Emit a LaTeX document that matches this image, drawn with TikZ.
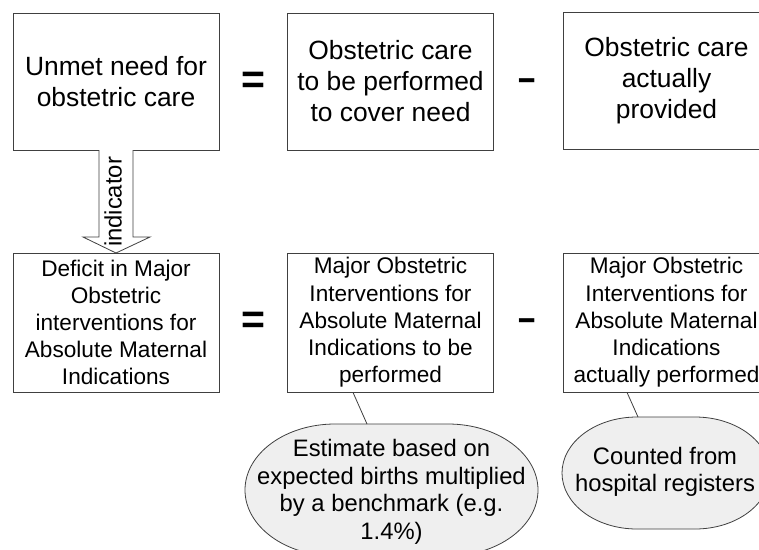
\documentclass[tikz,border=0pt]{standalone}
\usepackage{fontspec}
\setmainfont{Liberation Sans}
\definecolor{linegray}{HTML}{404040}
\definecolor{callfill}{HTML}{EFEFEF}
\begin{document}
\begin{tikzpicture}[x=1pt,y=-1pt,
  box/.style={draw=linegray, line width=0.8pt, inner sep=0pt, align=center, text=black},
  toprow/.style={box, minimum width=206pt, minimum height=137pt, font=\fontsize{26.4}{31}\selectfont},
  botrow/.style={box, minimum width=206pt, minimum height=139pt, font=\fontsize{22.6}{27.2}\selectfont},
  eqop/.style={font=\fontsize{41}{41}\selectfont\bfseries, inner sep=0pt},
  minusop/.style={font=\fontsize{31}{31}\selectfont\bfseries, inner sep=0pt, yscale=1.3},
  calltext/.style={align=center, inner sep=0pt, font=\fontsize{23.8}{27.5}\selectfont},
  callshape/.style={draw=linegray, line width=0.8pt, fill=callfill},
  link/.style={draw=linegray, line width=0.8pt}]
\useasboundingbox (0,0) rectangle (759,549);
\clip (0,0) rectangle (759,549);
\fill[white] (0,0) rectangle (759,549);

% top row
\node[toprow] (b1) at (116,81.5) {Unmet need for\\obstetric care};
\node[toprow] (b2) at (390.5,81.5) {Obstetric care\\to be performed\\to cover need};
\node[toprow] (b3) at (666.5,81) {Obstetric care\\actually\\provided};
\node[eqop] (eq1) at (253,82.5) {=};
\node[minusop, transform shape] (mi1) at (527.5,85.5) {–};

% bottom row
\node[botrow] (b4) at (116,322.5) {Deficit in Major\\Obstetric\\interventions for\\Absolute Maternal\\Indications};
\node[botrow] (b5) at (390.5,322.5) {Major Obstetric\\Interventions for\\Absolute Maternal\\Indications to be\\performed};
\node[botrow] (b6) at (666.5,322.5) {Major Obstetric\\Interventions for\\Absolute Maternal\\Indications\\actually performed};
\node[eqop] (eq2) at (253,322.5) {=};
\node[minusop, transform shape] (mi2) at (527.5,325.5) {–};

% indicator block arrow
\draw[link, fill=white] (99,150) -- (99,237) -- (83,237) -- (116,253) -- (150,237) -- (133,237) -- (133,150);
\node[rotate=90, inner sep=0pt, font=\fontsize{23.8}{24}\selectfont] (ind) at (113,202) {indicator};

% callouts
\draw[callshape] (335,424) -- (448,424)
  arc[start angle=-90, end angle=0, x radius=90, y radius=66]
  arc[start angle=0, end angle=90, x radius=90, y radius=66]
  -- (335,556)
  arc[start angle=90, end angle=180, x radius=90, y radius=66]
  arc[start angle=180, end angle=270, x radius=90, y radius=66] -- cycle;
\draw[callshape] (637,417) -- (695,417)
  arc[start angle=-90, end angle=0, x radius=75, y radius=56]
  arc[start angle=0, end angle=90, x radius=75, y radius=56]
  -- (637,529)
  arc[start angle=90, end angle=180, x radius=75, y radius=56]
  arc[start angle=180, end angle=270, x radius=75, y radius=56] -- cycle;
\node[calltext] (c1) at (391.5,492) {Estimate based on\\expected births multiplied\\by a benchmark (e.g.\\1.4\%)};
\node[calltext] (c2) at (665,472) {Counted from\\hospital registers};
\coordinate (c1top) at (367,424);
\coordinate (c2top) at (638,417);
\draw[link] ([xshift=-37.5pt]b5.south) -- (c1top);
\draw[link] ([xshift=-39.5pt]b6.south) -- (c2top);
\end{tikzpicture}
\end{document}
